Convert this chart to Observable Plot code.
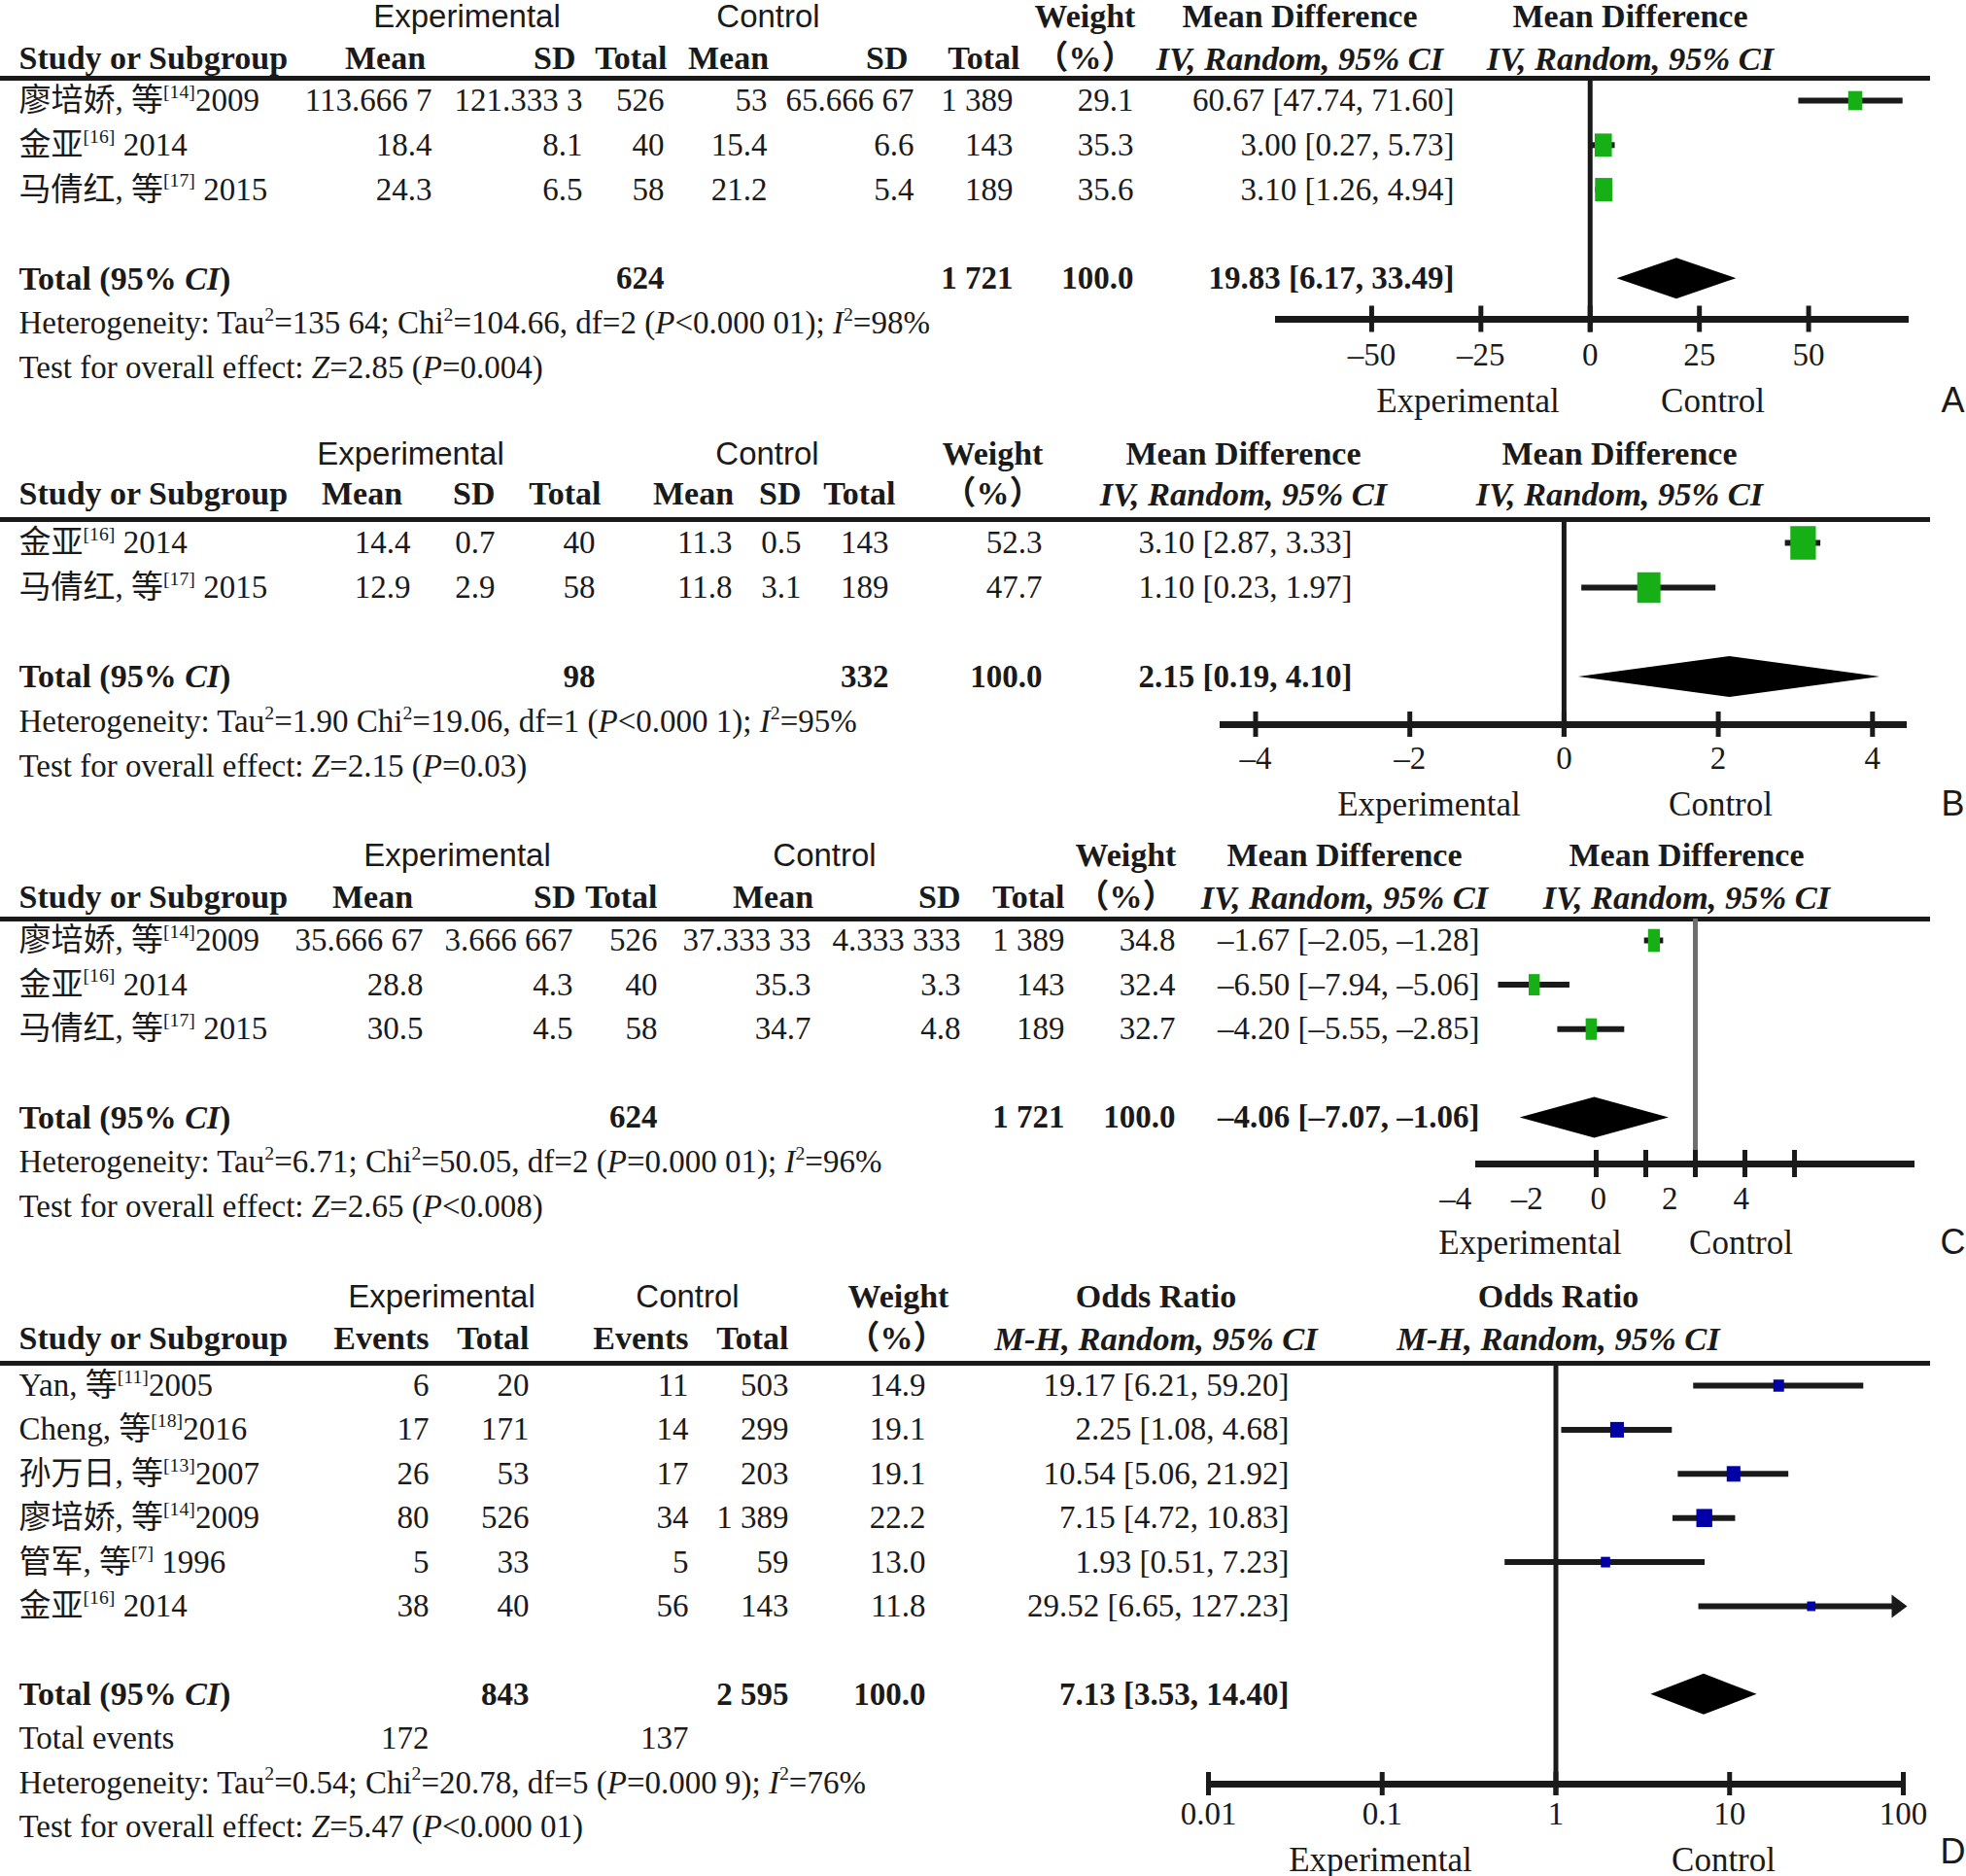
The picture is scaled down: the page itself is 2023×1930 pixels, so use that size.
<!DOCTYPE html>
<html><head><meta charset="utf-8">
<script src="https://cdn.jsdelivr.net/npm/d3@7"></script>
<script src="https://cdn.jsdelivr.net/npm/@observablehq/plot@0.6"></script>
<style>
html,body{margin:0;padding:0;background:#fff;}
#chart{width:2023px;}
#chart svg{display:block;}
</style></head><body><div id="chart"></div>
<script>
// ================= DATA =================
// Panel A (mean difference)
const studiesA = ["廖培娇, 等^[14]^2009", "金亚^[16]^ 2014", "马倩红, 等^[17]^ 2015"];
const expMeanA = ["113.666 7", "18.4", "24.3"];
const expSdA = ["121.333 3", "8.1", "6.5"];
const expTotalA = ["526", "40", "58"];
const ctlMeanA = ["53", "15.4", "21.2"];
const ctlSdA = ["65.666 67", "6.6", "5.4"];
const ctlTotalA = ["1 389", "143", "189"];
const weightA = [29.1, 35.3, 35.6];
const estA = [60.67, 3.00, 3.10];
const lowerA = [47.74, 0.27, 1.26];
const upperA = [71.60, 5.73, 4.94];
const pooledA = [19.83, 6.17, 33.49];
const totalsA = ["624", "1 721", "100.0"];
const hetA = "Heterogeneity: Tau^2^=135 64; Chi^2^=104.66, df=2 (*P*<0.000 01); *I*^2^=98%";
const testA = "Test for overall effect: *Z*=2.85 (*P*=0.004)";
const ticksA = [-50, -25, 0, 25, 50];

// Panel B (mean difference)
const studiesB = ["金亚^[16]^ 2014", "马倩红, 等^[17]^ 2015"];
const expMeanB = ["14.4", "12.9"];
const expSdB = ["0.7", "2.9"];
const expTotalB = ["40", "58"];
const ctlMeanB = ["11.3", "11.8"];
const ctlSdB = ["0.5", "3.1"];
const ctlTotalB = ["143", "189"];
const weightB = [52.3, 47.7];
const estB = [3.10, 1.10];
const lowerB = [2.87, 0.23];
const upperB = [3.33, 1.97];
const pooledB = [2.15, 0.19, 4.10];
const totalsB = ["98", "332", "100.0"];
const hetB = "Heterogeneity: Tau^2^=1.90 Chi^2^=19.06, df=1 (*P*<0.000 1); *I*^2^=95%";
const testB = "Test for overall effect: *Z*=2.15 (*P*=0.03)";
const ticksB = [-4, -2, 0, 2, 4];

// Panel C (mean difference)
const studiesC = ["廖培娇, 等^[14]^2009", "金亚^[16]^ 2014", "马倩红, 等^[17]^ 2015"];
const expMeanC = ["35.666 67", "28.8", "30.5"];
const expSdC = ["3.666 667", "4.3", "4.5"];
const expTotalC = ["526", "40", "58"];
const ctlMeanC = ["37.333 33", "35.3", "34.7"];
const ctlSdC = ["4.333 333", "3.3", "4.8"];
const ctlTotalC = ["1 389", "143", "189"];
const weightC = [34.8, 32.4, 32.7];
const estC = [-1.67, -6.50, -4.20];
const lowerC = [-2.05, -7.94, -5.55];
const upperC = [-1.28, -5.06, -2.85];
const pooledC = [-4.06, -7.07, -1.06];
const totalsC = ["624", "1 721", "100.0"];
const hetC = "Heterogeneity: Tau^2^=6.71; Chi^2^=50.05, df=2 (*P*=0.000 01); *I*^2^=96%";
const testC = "Test for overall effect: *Z*=2.65 (*P*<0.008)";
const ticksC = [-4, -2, 0, 2, 4];

// Panel D (odds ratio)
const studiesD = ["Yan, 等^[11]^2005", "Cheng, 等^[18]^2016", "孙万日, 等^[13]^2007", "廖培娇, 等^[14]^2009", "管军, 等^[7]^ 1996", "金亚^[16]^ 2014"];
const expEventsD = ["6", "17", "26", "80", "5", "38"];
const expTotalD = ["20", "171", "53", "526", "33", "40"];
const ctlEventsD = ["11", "14", "17", "34", "5", "56"];
const ctlTotalD = ["503", "299", "203", "1 389", "59", "143"];
const weightD = [14.9, 19.1, 19.1, 22.2, 13.0, 11.8];
const estD = [19.17, 2.25, 10.54, 7.15, 1.93, 29.52];
const lowerD = [6.21, 1.08, 5.06, 4.72, 0.51, 6.65];
const upperD = [59.20, 4.68, 21.92, 10.83, 7.23, 127.23];
const pooledD = [7.13, 3.53, 14.40];
const totalsD = ["843", "2 595", "100.0"];
const totalEventsD = ["172", "137"];
const hetD = "Heterogeneity: Tau^2^=0.54; Chi^2^=20.78, df=5 (*P*=0.000 9); *I*^2^=76%";
const testD = "Test for overall effect: *Z*=5.47 (*P*<0.000 01)";
const ticksD = [0.01, 0.1, 1, 10, 100];

// ================= STYLE =================
const SERIF = "'Liberation Serif','Times New Roman','Noto Sans CJK SC',serif";
const SANS = "'Liberation Sans',Arial,sans-serif";
const INK = "#1a1a1a";
const FS = 33, HFS = 34, HIFS = 34.5, SFS = 33, SIDEFS = 35;
const GREEN = "#16b016", BLUE = "#0000a6";

const dash = v => (v < 0 ? "–" : "") + Math.abs(v);
const fmt2 = v => (v < 0 ? "–" : "") + Math.abs(v).toFixed(2);
const ciLabel = (e, l, h) => `${fmt2(e)} [${fmt2(l)}, ${fmt2(h)}]`;

function rectSymbol(aspect) {
  return {draw(ctx, size) {
    const r = Math.sqrt(size / Math.PI), h = 2 * r, w = aspect * h;
    ctx.moveTo(-w / 2, -h / 2); ctx.lineTo(w / 2, -h / 2);
    ctx.lineTo(w / 2, h / 2); ctx.lineTo(-w / 2, h / 2); ctx.closePath();
  }};
}
const arrowSymbol = {draw(ctx) {
  ctx.moveTo(4, 0); ctx.lineTo(-12, -12); ctx.lineTo(-12, 12); ctx.closePath();
}};

function fontOpts(kind) {
  switch (kind) {
    case "sans": return {fontFamily: SANS, fontSize: SFS, fontWeight: "normal", fontStyle: "normal"};
    case "bold": return {fontFamily: SERIF, fontSize: HFS, fontWeight: "bold", fontStyle: "normal"};
    case "boldbody": return {fontFamily: SERIF, fontSize: FS, fontWeight: "bold", fontStyle: "normal"};
    case "bolditalic": return {fontFamily: SERIF, fontSize: HIFS, fontWeight: "bold", fontStyle: "italic"};
    case "side": return {fontFamily: SERIF, fontSize: SIDEFS, fontWeight: "normal", fontStyle: "normal"};
    case "letter": return {fontFamily: SANS, fontSize: 36, fontWeight: "normal", fontStyle: "normal"};
    default: return {fontFamily: SERIF, fontSize: FS, fontWeight: "normal", fontStyle: "normal"};
  }
}
const anchorOf = a => a === "mid" ? "middle" : a === "start" ? "start" : "end";

function label(str, x, row, anchor, kind) {
  return Plot.text([str], {text: d => d, y: () => row, frameAnchor: "left", dx: x,
    textAnchor: anchorOf(anchor), fill: INK, ...fontOpts(kind)});
}

function buildPanel(P) {
  const L = P.layout;
  const R = px => (px - L.row0) / L.rowH;
  const n = P.studies.length;
  const idx = d3.range(n);
  const [dMin, dMax] = P.x.domain;
  const clip = v => Math.max(dMin, Math.min(dMax, v));
  const rows = idx.map(i => ({i, est: P.est[i], lo: clip(P.lower[i]), hi: clip(P.upper[i]), over: P.upper[i] > dMax, w: P.weight[i]}));
  const marks = [];

  // header rule
  marks.push(Plot.ruleY([R(L.hline)], {stroke: INK, strokeWidth: 5}));
  // line of no effect
  marks.push(Plot.ruleX([P.nullValue], {y1: () => R(L.hline), y2: () => R(L.axis + L.tickHalf), stroke: P.zeroColor || INK, strokeWidth: 5}));
  // axis
  marks.push(Plot.ruleY([R(L.axis)], {x1: () => dMin, x2: () => dMax, stroke: INK, strokeWidth: 7}));
  marks.push(Plot.ruleX(P.ticks, {x: d => d, y1: () => R(L.axis - L.tickHalf), y2: () => R(L.axis + L.tickHalf), stroke: INK, strokeWidth: 5}));
  marks.push(Plot.text(P.ticks, {x: d => P.tickPos ? P.tickPos(d) : d, y: () => R(L.tickLab), text: P.tickFormat,
    textAnchor: "middle", fill: INK, ...fontOpts("body")}));
  // CI lines
  marks.push(Plot.ruleY(rows, {y: "i", x1: "lo", x2: "hi", stroke: INK, strokeWidth: 6}));
  marks.push(Plot.dot(rows.filter(d => d.over), {x: "hi", y: "i", symbol: arrowSymbol, r: 5, fill: INK, stroke: "none"}));
  // study squares
  marks.push(Plot.dot(rows, {x: "est", y: "i", r: "w", symbol: rectSymbol(P.aspect), fill: P.color, stroke: "none"}));
  // pooled diamond
  const [pe, pl, ph] = P.pooled;
  const tr = P.rows.total, hh = 21 / L.rowH;
  marks.push(Plot.areaY([{x: pl, a: tr, b: tr}, {x: pe, a: tr - hh, b: tr + hh}, {x: ph, a: tr, b: tr}],
    {x: "x", y1: "a", y2: "b", fill: "#000"}));

  // table columns
  for (const c of P.columns) {
    marks.push(Plot.text(idx, {y: i => i, text: i => c.values[i], frameAnchor: "left", dx: c.x,
      textAnchor: anchorOf(c.anchor), fill: INK, ...fontOpts("body")}));
  }
  marks.push(Plot.text(rows, {y: "i", text: d => ciLabel(P.est[d.i], P.lower[d.i], P.upper[d.i]), frameAnchor: "left", dx: P.ciX,
    textAnchor: "end", fill: INK, ...fontOpts("body")}));

  // headers
  for (const h of P.headers) marks.push(label(h.text, h.x, R(L[h.y]), h.anchor, h.kind));
  // total row
  marks.push(label("Total (95% *CI*)", 19, tr, "start", "bold"));
  P.totalCols.forEach((x, k) => marks.push(label(P.totals[k], x, tr, "end", "boldbody")));
  marks.push(label(ciLabel(pe, pl, ph), P.ciX, tr, "end", "boldbody"));
  for (const e of (P.extra || [])) marks.push(label(e.text, e.x, e.row, e.anchor, "body"));
  marks.push(label(P.het, 19, P.rows.het, "start", "body"));
  marks.push(label(P.test, 19, P.rows.test, "start", "body"));
  // favours labels + panel letter
  marks.push(label("Experimental", P.sideX[0], R(L.sideLab), "mid", "side"));
  marks.push(label("Control", P.sideX[1], R(L.sideLab), "mid", "side"));
  marks.push(label(P.letter, 2009, R(L.letterY ?? L.sideLab), "mid", "letter"));

  return Plot.plot({
    width: 2023, height: L.height,
    marginLeft: 0, marginRight: 37, marginTop: 0, marginBottom: 0,
    x: {type: P.x.type, domain: P.x.domain, range: P.x.range, axis: null},
    y: {type: "linear", domain: [0, 1], range: [L.row0, L.row0 + L.rowH], axis: null},
    r: {type: "linear", domain: [0, P.rScale[0]], range: [0, P.rScale[1]]},
    style: {background: "#fff", overflow: "visible", color: INK},
    marks
  });
}

function mdHeaders(c) {
  return [
    {text: "Experimental", x: c.exp, y: "hdr1", anchor: "mid", kind: "sans"},
    {text: "Control", x: c.ctl, y: "hdr1", anchor: "mid", kind: "sans"},
    {text: "Weight", x: c.w, y: "hdr1", anchor: "mid", kind: "bold"},
    {text: "Mean Difference", x: c.md1, y: "hdr1", anchor: "mid", kind: "bold"},
    {text: "Mean Difference", x: c.md2, y: "hdr1", anchor: "mid", kind: "bold"},
    {text: "Study or Subgroup", x: 19, y: "hdr2", anchor: "start", kind: "bold"},
    {text: "Mean", x: c.m1, y: "hdr2", anchor: "mid", kind: "bold"},
    {text: "SD", x: c.sd1, y: "hdr2", anchor: "end", kind: "bold"},
    {text: "Total", x: c.t1, y: "hdr2", anchor: "end", kind: "bold"},
    {text: "Mean", x: c.m2, y: "hdr2", anchor: "mid", kind: "bold"},
    {text: "SD", x: c.sd2, y: "hdr2", anchor: "end", kind: "bold"},
    {text: "Total", x: c.t2, y: "hdr2", anchor: "end", kind: "bold"},
    {text: "（%）", x: c.w, y: "hdr2", anchor: "mid", kind: "bold"},
    {text: "IV, Random, 95% CI", x: c.md1, y: "hdr2", anchor: "mid", kind: "bolditalic"},
    {text: "IV, Random, 95% CI", x: c.md2, y: "hdr2", anchor: "mid", kind: "bolditalic"}
  ];
}

const mdTick = d => dash(d);

const panelA = buildPanel({
  letter: "A",
  layout: {height: 440, row0: 103, rowH: 45.8, hdr1: 17, hdr2: 60, hline: 80, axis: 328, tickHalf: 13.5, tickLab: 365, sideLab: 412},
  rows: {total: 4, het: 5, test: 6},
  studies: studiesA, est: estA, lower: lowerA, upper: upperA, weight: weightA, pooled: pooledA,
  columns: [
    {values: studiesA, x: 19, anchor: "start"},
    {values: expMeanA, x: 444}, {values: expSdA, x: 599}, {values: expTotalA, x: 683},
    {values: ctlMeanA, x: 789}, {values: ctlSdA, x: 940}, {values: ctlTotalA, x: 1042},
    {values: weightA.map(w => w.toFixed(1)), x: 1166}
  ],
  ciX: 1496, totalCols: [683, 1042, 1166], totals: totalsA,
  headers: mdHeaders({exp: 480, ctl: 790, w: 1116, md1: 1337, md2: 1677, m1: 396, sd1: 592, t1: 686, m2: 749, sd2: 934, t2: 1049}),
  het: hetA, test: testA,
  x: {type: "linear", domain: [-72, 73], range: [1312, 1964]}, nullValue: 0,
  ticks: ticksA, tickFormat: mdTick,
  sideX: [1510, 1762],
  color: GREEN, aspect: 0.74, rScale: [35.5, 12]
});

const panelB = buildPanel({
  letter: "B",
  layout: {height: 420, row0: 118, rowH: 46, hdr1: 27, hdr2: 68, hline: 94, axis: 305, tickHalf: 13, tickLab: 340, sideLab: 387},
  rows: {total: 3, het: 4, test: 5},
  studies: studiesB, est: estB, lower: lowerB, upper: upperB, weight: weightB, pooled: pooledB,
  columns: [
    {values: studiesB, x: 19, anchor: "start"},
    {values: expMeanB, x: 422}, {values: expSdB, x: 509}, {values: expTotalB, x: 612},
    {values: ctlMeanB, x: 753}, {values: ctlSdB, x: 824}, {values: ctlTotalB, x: 914},
    {values: weightB.map(w => w.toFixed(1)), x: 1072}
  ],
  ciX: 1391, totalCols: [612, 914, 1072], totals: totalsB,
  headers: mdHeaders({exp: 422, ctl: 789, w: 1021, md1: 1279, md2: 1666, m1: 372, sd1: 509, t1: 618, m2: 713, sd2: 824, t2: 921}),
  het: hetB, test: testB,
  x: {type: "linear", domain: [-4.46, 4.45], range: [1255, 1962]}, nullValue: 0,
  ticks: ticksB, tickFormat: mdTick,
  sideX: [1470, 1770],
  color: GREEN, aspect: 0.76, rScale: [50, 16.5]
});

const panelC = buildPanel({
  letter: "C",
  layout: {height: 450, row0: 107, rowH: 45.6, hdr1: 20, hdr2: 63, hline: 85, axis: 337, tickHalf: 14, tickLab: 373, sideLab: 418},
  rows: {total: 4, het: 5, test: 6},
  studies: studiesC, est: estC, lower: lowerC, upper: upperC, weight: weightC, pooled: pooledC,
  columns: [
    {values: studiesC, x: 19, anchor: "start"},
    {values: expMeanC, x: 435}, {values: expSdC, x: 589}, {values: expTotalC, x: 676},
    {values: ctlMeanC, x: 834}, {values: ctlSdC, x: 988}, {values: ctlTotalC, x: 1095},
    {values: weightC.map(w => w.toFixed(1)), x: 1209}
  ],
  ciX: 1522, totalCols: [676, 1095, 1209], totals: totalsC,
  headers: mdHeaders({exp: 470, ctl: 848, w: 1158, md1: 1383, md2: 1735, m1: 383, sd1: 592, t1: 676, m2: 795, sd2: 988, t2: 1095}),
  het: hetC, test: testC,
  x: {type: "linear", domain: [-8.86, 8.86], range: [1518, 1970]}, nullValue: 0, zeroColor: "#6e6e6e",
  ticks: ticksC, tickFormat: mdTick,
  // in the original figure the tick labels sit offset from their tick marks
  tickPos: d => 1.441 * d - 3.91,
  sideX: [1574, 1791],
  color: GREEN, aspect: 0.52, rScale: [34, 11.5]
});

const panelD = buildPanel({
  letter: "D",
  layout: {height: 620, row0: 115, rowH: 45.4, hdr1: 24, hdr2: 67, hline: 92, axis: 525, tickHalf: 12, tickLab: 556, sideLab: 603, letterY: 595},
  rows: {total: 7, het: 9, test: 10},
  studies: studiesD, est: estD, lower: lowerD, upper: upperD, weight: weightD, pooled: pooledD,
  columns: [
    {values: studiesD, x: 19, anchor: "start"},
    {values: expEventsD, x: 441}, {values: expTotalD, x: 544},
    {values: ctlEventsD, x: 708}, {values: ctlTotalD, x: 811},
    {values: weightD.map(w => w.toFixed(1)), x: 952}
  ],
  ciX: 1326, totalCols: [544, 811, 952], totals: totalsD,
  extra: [
    {text: "Total events", x: 19, row: 8, anchor: "start"},
    {text: totalEventsD[0], x: 441, row: 8, anchor: "end"},
    {text: totalEventsD[1], x: 708, row: 8, anchor: "end"}
  ],
  headers: [
    {text: "Experimental", x: 454, y: "hdr1", anchor: "mid", kind: "sans"},
    {text: "Control", x: 707, y: "hdr1", anchor: "mid", kind: "sans"},
    {text: "Weight", x: 924, y: "hdr1", anchor: "mid", kind: "bold"},
    {text: "Odds Ratio", x: 1189, y: "hdr1", anchor: "mid", kind: "bold"},
    {text: "Odds Ratio", x: 1603, y: "hdr1", anchor: "mid", kind: "bold"},
    {text: "Study or Subgroup", x: 19, y: "hdr2", anchor: "start", kind: "bold"},
    {text: "Events", x: 441, y: "hdr2", anchor: "end", kind: "bold"},
    {text: "Total", x: 544, y: "hdr2", anchor: "end", kind: "bold"},
    {text: "Events", x: 708, y: "hdr2", anchor: "end", kind: "bold"},
    {text: "Total", x: 811, y: "hdr2", anchor: "end", kind: "bold"},
    {text: "（%）", x: 922, y: "hdr2", anchor: "mid", kind: "bold"},
    {text: "M-H, Random, 95% CI", x: 1189, y: "hdr2", anchor: "mid", kind: "bolditalic"},
    {text: "M-H, Random, 95% CI", x: 1603, y: "hdr2", anchor: "mid", kind: "bolditalic"}
  ],
  het: hetD, test: testD,
  x: {type: "log", domain: [0.01, 100], range: [1243, 1958]}, nullValue: 1,
  ticks: ticksD, tickFormat: d => String(d),
  sideX: [1420, 1773],
  color: BLUE, aspect: 0.88, rScale: [22.2, 9.3]
});

const host = document.getElementById("chart");
for (const p of [panelA, panelB, panelC, panelD]) host.appendChild(p);

// rich text: ^sup^ and *italic*
function richText(root) {
  const NS = "http://www.w3.org/2000/svg";
  for (const t of root.querySelectorAll("text")) {
    const s = t.textContent;
    if (!/[\^*]/.test(s)) continue;
    const fs = parseFloat(getComputedStyle(t).fontSize) || FS;
    const parts = s.split(/(\^[^\^]*\^|\*[^*]*\*)/).filter(p => p !== "");
    while (t.firstChild) t.removeChild(t.firstChild);
    let back = 0;
    for (const p of parts) {
      const ts = document.createElementNS(NS, "tspan");
      if (p[0] === "^") {
        ts.textContent = p.slice(1, -1);
        ts.setAttribute("font-size", (fs * 0.6).toFixed(1));
        ts.setAttribute("dy", (-fs * 0.4 + back).toFixed(1));
        back = fs * 0.4;
      } else {
        ts.textContent = p[0] === "*" ? p.slice(1, -1) : p;
        if (p[0] === "*") ts.setAttribute("font-style", "italic");
        if (back) { ts.setAttribute("dy", back.toFixed(1)); back = 0; }
      }
      t.appendChild(ts);
    }
  }
}
richText(host);
</script></body></html>
